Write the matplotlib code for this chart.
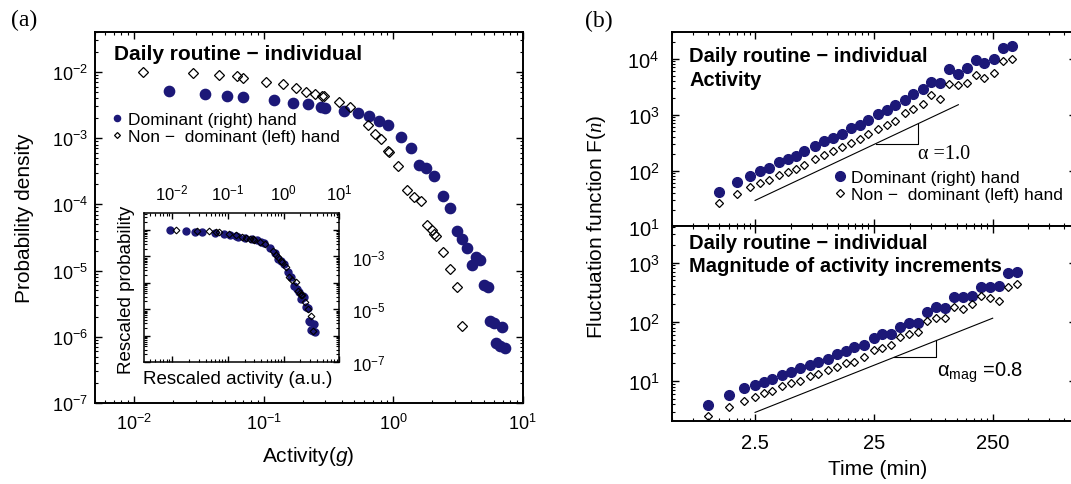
import numpy as np
import matplotlib
matplotlib.use("Agg")
import matplotlib.pyplot as plt
from matplotlib.ticker import FixedLocator, FuncFormatter, LogLocator, NullFormatter

plt.rcParams['font.family'] = ['Liberation Sans', 'DejaVu Sans']
plt.rcParams['mathtext.fontset'] = 'custom'
plt.rcParams['mathtext.rm'] = 'Liberation Sans'
plt.rcParams['mathtext.it'] = 'Liberation Serif:italic'
plt.rcParams['mathtext.sf'] = 'Liberation Sans:italic'
plt.rcParams['axes.linewidth'] = 1.4

navy = '#1c1878'

# (a) probability density of activity, dominant hand (circles)
g_dom = [0.0185, 0.0356, 0.0523, 0.0695, 0.120, 0.169, 0.219, 0.278, 0.300, 0.415,
         0.533, 0.656, 0.774, 0.908, 1.16, 1.38, 1.58, 1.80, 2.06, 2.42,
         2.77, 3.10, 3.41, 3.73, 4.07, 4.40, 4.72, 5.01, 5.38, 5.64,
         6.06, 6.28, 6.74, 6.95, 7.36]
p_dom = [5.16e-3, 4.70e-3, 4.30e-3, 4.15e-3, 3.82e-3, 3.40e-3, 3.25e-3, 2.93e-3, 2.83e-3, 2.55e-3,
         2.38e-3, 2.19e-3, 1.84e-3, 1.58e-3, 1.03e-3, 7.04e-4, 3.98e-4, 3.51e-4, 2.64e-4, 1.35e-4,
         8.66e-5, 3.90e-5, 3.00e-5, 2.19e-5, 1.22e-5, 1.59e-5, 1.45e-5, 6.12e-6, 5.71e-6, 1.75e-6,
         1.62e-6, 8.05e-7, 7.35e-7, 1.39e-6, 6.78e-7]

# non-dominant hand (diamonds)
g_nd = [0.0117, 0.0286, 0.0456, 0.0624, 0.0695, 0.105, 0.141, 0.178, 0.214, 0.251,
        0.283, 0.295, 0.380, 0.468, 0.641, 0.730, 0.808, 0.908, 0.925, 1.09,
        1.27, 1.44, 1.65, 1.82, 1.98, 2.08, 2.16, 2.42, 2.74, 3.10, 3.41]
p_nd = [1.01e-2, 9.55e-3, 9.01e-3, 8.79e-3, 8.20e-3, 7.13e-3, 6.59e-3, 5.67e-3, 5.04e-3, 4.66e-3,
        4.39e-3, 4.30e-3, 3.48e-3, 2.93e-3, 1.58e-3, 1.16e-3, 9.73e-4, 6.48e-4, 6.25e-4, 3.84e-4,
        1.65e-4, 1.28e-4, 1.11e-4, 4.83e-5, 4.10e-5, 3.51e-5, 3.37e-5, 1.92e-5, 1.05e-5, 5.65e-6, 1.46e-6]

# inset: dominant curve rescaled onto the non-dominant one
sigma_dom = 2.0

# (b) upper: DFA of activity, time in minutes
t_act = [1.25, 1.75, 2.25, 2.75, 3.25, 4.0, 4.75, 5.5, 6.5, 8.0,
         9.5, 11.25, 13.5, 16, 19, 22.5, 27, 32, 38, 45.75,
         53.75, 64.5, 75.5, 90, 108, 128.5, 151, 181, 213, 255, 304, 366]
F_act_dom = [41.2, 62.2, 79.8, 96.4, 111, 142, 158, 182, 226, 278,
             332, 381, 450, 575, 659, 811, 1026, 1208, 1462, 1849,
             2297, 2871, 3828, 3675, 6437, 5326, 6902, 9330, 8375, 10000, 15530, 16600]
F_act_nd = [26.2, 38.5, 49.9, 59.7, 66.5, 84.1, 94.0, 108, 128, 162,
            192, 220, 259, 314, 371, 442, 559, 659, 755, 1050,
            1276, 1567, 2203, 1923, 3573, 3327, 3675, 5176, 4519, 5623, 8950, 10000]

# (b) lower: DFA of magnitude of increments
t_mag = [1.0, 1.5, 2.0, 2.5, 3.0, 3.5, 4.25, 5.0, 6.0, 7.25,
         8.5, 10.25, 12.25, 14.5, 17, 20.5, 25, 29.5, 35, 41.5,
         49, 58.5, 70, 83, 99, 119, 140, 167, 200, 238, 281, 335, 399]
F_mag_dom = [3.94, 5.81, 7.45, 8.55, 9.62, 10.7, 12.6, 14.4, 16.4, 18.6,
             20.5, 23.9, 29.0, 32.1, 38.1, 40.1, 54.1, 61.5, 61.5, 83.0,
             96.9, 96.9, 146.6, 178, 174, 262, 262, 273, 387, 387, 403, 659, 705]
F_mag_nd = [2.56, 3.64, 4.59, 5.37, 6.20, 6.78, 8.24, 9.04, 10.0, 12.1,
            13.3, 15.3, 17.2, 19.9, 20.9, 25.4, 33.4, 36.6, 40.1, 56.2,
            61.5, 68.3, 103, 115, 115, 181, 167, 198, 273, 256, 224, 387, 442]

# guide lines with slope triangles
guide1_t = [2.5, 128.5]
guide1_F = [29.2, 1502]
tri1_t = [26.0, 59.3, 59.3]
tri1_F = [304, 304, 692]
guide2_t = [2.5, 250]
guide2_F = [2.93, 115]
tri2_t = [36.6, 83, 83]
tri2_F = [25.0, 25.0, 48.4]

dom_label = 'Dominant (right) hand'
nd_label = 'Non \u2212  dominant (left) hand'
title = 'Daily routine \u2212 individual'


def log_label(v, pos):
    return r'$\mathdefault{10^{%d}}$' % int(round(np.log10(v)))


def style_ticks(a, size):
    a.tick_params(which='both', direction='in', top=True, right=True, labelsize=size)
    a.tick_params(which='major', length=5, width=1.0)
    a.tick_params(which='minor', length=2.5, width=0.8)


fig = plt.figure(figsize=(10.71, 4.85), dpi=100)

# ---------- panel (a) ----------
ax = fig.add_axes([0.0887, 0.167, 0.3993, 0.765])
ax.set_xscale('log')
ax.set_yscale('log')
ax.plot(g_dom, p_dom, 'o', ms=7.4, color=navy, ls='none', label=dom_label)
ax.plot(g_nd, p_nd, 'D', ms=5.0, mfc='none', mec='black', mew=0.9, ls='none', label=nd_label)
ax.set_xlim(0.005, 10)
ax.set_ylim(1e-7, 0.04)
ax.xaxis.set_major_locator(FixedLocator([1e-2, 1e-1, 1, 10]))
ax.xaxis.set_major_formatter(FuncFormatter(log_label))
ax.xaxis.set_minor_locator(LogLocator(subs=range(2, 10), numticks=20))
ax.xaxis.set_minor_formatter(NullFormatter())
ax.yaxis.set_major_locator(FixedLocator([1e-7, 1e-6, 1e-5, 1e-4, 1e-3, 1e-2]))
ax.yaxis.set_major_formatter(FuncFormatter(log_label))
ax.yaxis.set_minor_locator(LogLocator(subs=range(2, 10), numticks=20))
ax.yaxis.set_minor_formatter(NullFormatter())
style_ticks(ax, 13)
ax.tick_params(axis='x', pad=7)
ax.tick_params(axis='y', pad=5)
ax.text(0.044, 0.941, title, transform=ax.transAxes, fontsize=15, fontweight='bold', va='center')
ax.legend(loc='upper left', bbox_to_anchor=(0.039, 0.785), frameon=False, fontsize=12.5,
          markerscale=0.6, handlelength=0.6, handletextpad=0.35, borderpad=0,
          borderaxespad=0, labelspacing=0.1)

# inset
ins = fig.add_axes([0.1345, 0.251, 0.1824, 0.307])
ins.set_xscale('log')
ins.set_yscale('log')
ins.plot(np.array(g_dom) / sigma_dom, np.array(p_dom) * sigma_dom, 'o', ms=5.0, color=navy, ls='none')
ins.plot(g_nd, p_nd, 'D', ms=3.4, mfc='none', mec='black', mew=0.8, ls='none')
ins.set_xlim(10 ** -2.5, 10)
ins.set_ylim(1e-7, 10 ** -1.37)
ins.xaxis.set_major_locator(FixedLocator([1e-2, 1e-1, 1, 10]))
ins.xaxis.set_major_formatter(FuncFormatter(log_label))
ins.xaxis.set_minor_locator(LogLocator(subs=range(2, 10), numticks=20))
ins.xaxis.set_minor_formatter(NullFormatter())
ins.yaxis.set_major_locator(FixedLocator([1e-7, 1e-6, 1e-5, 1e-4, 1e-3, 1e-2]))
ins.yaxis.set_major_formatter(FuncFormatter(
    lambda v, pos: log_label(v, pos) if int(round(np.log10(v))) % 2 else ''))
ins.yaxis.set_minor_locator(LogLocator(subs=range(2, 10), numticks=20))
ins.yaxis.set_minor_formatter(NullFormatter())
style_ticks(ins, 12)
ins.tick_params(which='major', length=4)
ins.tick_params(which='minor', length=2)
ins.tick_params(labelbottom=False, labeltop=True, labelleft=False, labelright=True)
ins.tick_params(axis='x', pad=8)
ins.tick_params(axis='y', pad=9)
for s in ins.spines.values():
    s.set_linewidth(1.1)

fig.text(126.7 / 1071, 1 - 290 / 485, 'Rescaled probability', rotation=90, fontsize=13.5,
         ha='center', va='center')
fig.text(237.8 / 1071, 1 - 380 / 485, 'Rescaled activity (a.u.)', fontsize=13.5,
         ha='center', va='center')
fig.text(25 / 1071, 1 - 218.5 / 485, 'Probability density', rotation=90, fontsize=15,
         ha='center', va='center')
fig.text(308 / 1071, 1 - 456.7 / 485, r'Activity($\mathsf{g}$)', fontsize=15,
         ha='center', va='center')
fig.text(23.8 / 1071, 1 - 20.8 / 485, '(a)', fontsize=17, family='Liberation Serif',
         ha='center', va='center')

# ---------- panel (b) ----------
b1 = fig.add_axes([0.6275, 0.531, 0.3769, 0.401])
b2 = fig.add_axes([0.6275, 0.130, 0.3769, 0.401], sharex=b1)
xminor = [0.25 * m * 10 ** k for k in range(0, 4) for m in range(2, 10)]

for b in (b1, b2):
    b.set_xscale('log')
    b.set_yscale('log')
    b.set_xlim(0.5, 1250)
    b.xaxis.set_major_locator(FixedLocator([2.5, 25, 250]))
    b.xaxis.set_major_formatter(FuncFormatter(lambda v, pos: {2.5: '2.5', 25: '25', 250: '250'}.get(v, '')))
    b.xaxis.set_minor_locator(FixedLocator(xminor))
    b.xaxis.set_minor_formatter(NullFormatter())
    b.yaxis.set_major_formatter(FuncFormatter(log_label))
    b.yaxis.set_minor_locator(LogLocator(subs=range(2, 10), numticks=20))
    b.yaxis.set_minor_formatter(NullFormatter())
    style_ticks(b, 14.5)
    b.tick_params(axis='y', pad=9)
    b.tick_params(axis='x', pad=9)

b1.plot(t_act, F_act_dom, 'o', ms=7.0, color=navy, ls='none', label=dom_label)
b1.plot(t_act, F_act_nd, 'D', ms=4.4, mfc='none', mec='black', mew=0.9, ls='none', label=nd_label)
b1.plot(guide1_t, guide1_F, color='black', lw=0.8)
b1.plot(tri1_t, tri1_F, color='black', lw=0.8)
b1.set_ylim(10, 3.0e4)
b1.yaxis.set_major_locator(FixedLocator([10, 100, 1000, 10000]))
b1.tick_params(labelbottom=False)
b1.text(59.3, 205, '\u03b1 =1.0', fontsize=14.5, family='Liberation Serif', va='center')
b1.text(0.043, 0.878, title, transform=b1.transAxes, fontsize=14.5, fontweight='bold', va='center')
b1.text(0.043, 0.756, 'Activity', transform=b1.transAxes, fontsize=14.5, fontweight='bold', va='center')
b1.legend(loc='upper left', bbox_to_anchor=(0.395, 0.29), frameon=False, fontsize=12.5,
          handlelength=1.0, handletextpad=0.15, borderpad=0, borderaxespad=0, labelspacing=0.1)

b2.plot(t_mag, F_mag_dom, 'o', ms=7.0, color=navy, ls='none')
b2.plot(t_mag, F_mag_nd, 'D', ms=4.4, mfc='none', mec='black', mew=0.9, ls='none')
b2.plot(guide2_t, guide2_F, color='black', lw=0.8)
b2.plot(tri2_t, tri2_F, color='black', lw=0.8)
b2.set_ylim(2.1, 4100)
b2.yaxis.set_major_locator(FixedLocator([10, 100, 1000]))
b2.text(85, 14.0, '\u03b1$_{\\mathrm{mag}}$ =0.8', fontsize=14.5, va='center')
b2.text(0.043, 0.919, title, transform=b2.transAxes, fontsize=14.5, fontweight='bold', va='center')
b2.text(0.043, 0.798, 'Magnitude of activity increments', transform=b2.transAxes,
        fontsize=14.5, fontweight='bold', va='center')

fig.text(597 / 1071, 1 - 227 / 485, r'Fluctuation function F($n$)', rotation=90, fontsize=15,
         ha='center', va='center')
fig.text(877.5 / 1071, 1 - 470 / 485, 'Time (min)', fontsize=15, ha='center', va='center')
fig.text(599 / 1071, 1 - 21 / 485, '(b)', fontsize=17, family='Liberation Serif',
         ha='center', va='center')

plt.savefig('out.png', dpi=100)
